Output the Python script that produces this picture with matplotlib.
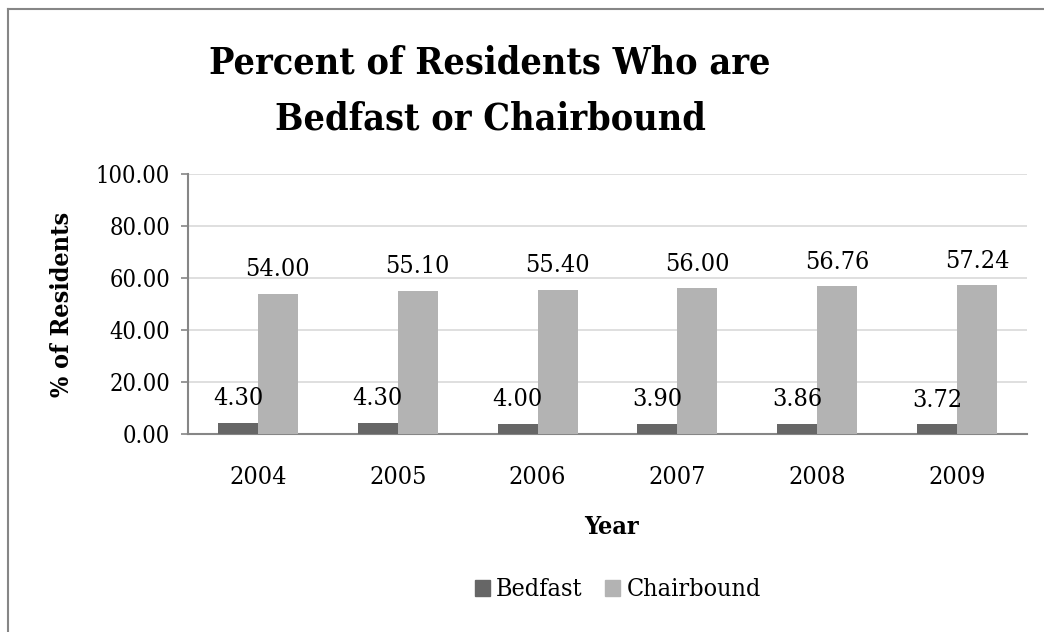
import matplotlib
matplotlib.use("Agg")
import matplotlib.pyplot as plt
import numpy as np
from matplotlib.patches import Rectangle
from matplotlib.lines import Line2D

years = ["2004", "2005", "2006", "2007", "2008", "2009"]
bedfast = [4.30, 4.30, 4.00, 3.90, 3.86, 3.72]
chairbound = [54.00, 55.10, 55.40, 56.00, 56.76, 57.24]
series_names = ["Bedfast", "Chairbound"]
yticks = [0, 20, 40, 60, 80, 100]
title_lines = ["Percent of Residents Who are", "Bedfast or Chairbound"]

plt.rcParams['font.family'] = ['DejaVu Serif']
plt.rcParams['font.stretch'] = 'condensed'

W, H = 1044, 632
fig = plt.figure(figsize=(W/100, H/100), dpi=100)
ax = fig.add_axes([188/W, 1-434/H, (1027-188)/W, (434-174)/H])

fs = 18
x = np.arange(len(years))
bw = 1/3.5
c1, c2 = "#666666", "#b3b3b3"
b1 = ax.bar(x - bw/2, bedfast, bw, color=c1, zorder=3)
b2 = ax.bar(x + bw/2, chairbound, bw, color=c2, zorder=3)
for rects, vals in ((b1, bedfast), (b2, chairbound)):
    for r, v in zip(rects, vals):
        ax.annotate(f"{v:.2f}", (r.get_x() + r.get_width()/2, v), xytext=(0, 9),
                    textcoords="offset points", ha="center", va="bottom", fontsize=fs)

ax.set_xlim(-0.5, len(years) - 0.5)
ax.set_ylim(0, 100)
ax.set_yticks(yticks)
ax.set_yticklabels([f"{t:.2f}" for t in yticks], fontsize=17)
ax.set_xticks(x)
ax.set_xticklabels(years, fontsize=fs)
ax.tick_params(axis='x', length=0, pad=23)
ax.tick_params(axis='y', length=5, width=1.2, color="#868686", pad=8)
ax.grid(axis='y', color="#d9d9d9", lw=1.2, zorder=0)
for s in ("top", "right"):
    ax.spines[s].set_visible(False)
for s in ("left", "bottom"):
    ax.spines[s].set_color("#868686")
    ax.spines[s].set_linewidth(1.5)

fig.text(62/W, 1-304/H, "% of Residents", rotation=90, ha="center", va="center",
         fontsize=fs, fontweight="bold")
fig.text(611/W, 1-527/H, "Year", ha="center", va="center", fontsize=fs, fontweight="bold")
for line, base in zip(title_lines, (73, 130)):
    fig.text(490/W, 1-base/H, line, ha="center", va="baseline", fontsize=27, fontweight="bold")

handles = [Rectangle((0, 0), 1, 1, color=c1), Rectangle((0, 0), 1, 1, color=c2)]
fig.legend(handles, series_names, loc="center", bbox_to_anchor=(618/W, 1-590/H), ncol=2,
           frameon=False, fontsize=fs, handlelength=0.6, handleheight=0.6,
           handletextpad=0.25, columnspacing=0.9, borderpad=0)

fig.add_artist(Line2D([8/W, 8/W], [0, 1-9/H], transform=fig.transFigure, color="#868686", lw=1.5))
fig.add_artist(Line2D([8/W, 1], [1-9/H, 1-9/H], transform=fig.transFigure, color="#868686", lw=1.5))

fig.savefig("out.png", dpi=100)
